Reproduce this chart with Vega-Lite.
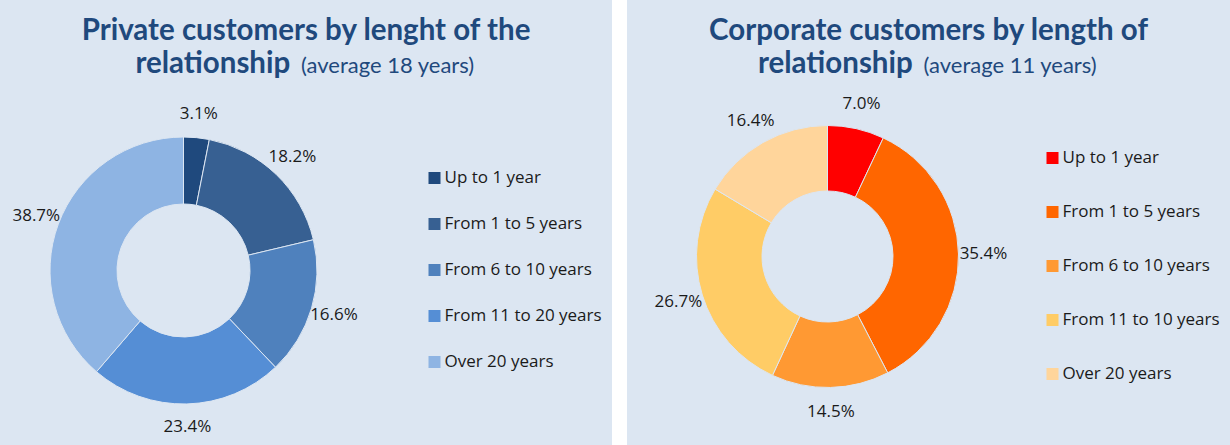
{
  "$schema": "https://vega.github.io/schema/vega-lite/v6.json",
  "background": "#ffffff",
  "padding": 0,
  "spacing": 15,
  "config": {
    "view": {"stroke": null, "fill": "#dce6f2"},
    "legend": {
      "orient": "none",
      "title": null,
      "symbolType": "square",
      "symbolSize": 144,
      "symbolStrokeWidth": 0,
      "symbolOpacity": 1,
      "labelFont": "Open Sans",
      "labelFontSize": 17,
      "labelColor": "#1a1a1a",
      "labelOffset": 1.5,
      "labelLimit": 400,
      "padding": 0
    },
    "title": {
      "anchor": "middle",
      "font": "Lato",
      "fontSize": 29.5,
      "fontWeight": "bold",
      "color": "#1f497d",
      "lineHeight": 33,
      "offset": -79,
      "subtitleFont": "Lato",
      "subtitleFontSize": 22,
      "subtitleFontWeight": "normal",
      "subtitleColor": "#1f497d",
      "subtitlePadding": -23
    }
  },
  "datasets": {
    "private": [
      {"cat": "Up to 1 year", "rank": 1, "pct": 0.031},
      {"cat": "From 1 to 5 years", "rank": 2, "pct": 0.182},
      {"cat": "From 6 to 10 years", "rank": 3, "pct": 0.166},
      {"cat": "From 11 to 20 years", "rank": 4, "pct": 0.234},
      {"cat": "Over 20 years", "rank": 5, "pct": 0.387}
    ],
    "corporate": [
      {"cat": "Up to 1 year", "rank": 1, "pct": 0.070},
      {"cat": "From 1 to 5 years", "rank": 2, "pct": 0.354},
      {"cat": "From 6 to 10 years", "rank": 3, "pct": 0.145},
      {"cat": "From 11 to 10 years", "rank": 4, "pct": 0.267},
      {"cat": "Over 20 years", "rank": 5, "pct": 0.164}
    ]
  },
  "resolve": {
    "scale": {"color": "independent", "theta": "independent"},
    "legend": {"color": "independent"}
  },
  "hconcat": [
    {
      "width": 612,
      "height": 445,
      "data": {"name": "private"},
      "title": {
        "text": ["Private customers by lenght of the", "relationship\u00a0\u00a0\u00a0\u00a0\u00a0\u00a0\u00a0\u00a0\u00a0\u00a0\u00a0\u00a0\u00a0\u00a0\u00a0\u00a0\u00a0\u00a0\u00a0\u00a0\u00a0\u00a0\u00a0\u00a0\u00a0\u00a0\u200b"],
        "subtitle": "\u200b\u00a0\u00a0\u00a0\u00a0\u00a0\u00a0\u00a0\u00a0\u00a0\u00a0\u00a0\u00a0\u00a0\u00a0\u00a0\u00a0\u00a0\u00a0\u00a0\u00a0\u00a0\u00a0\u00a0\u00a0\u00a0\u00a0\u00a0\u00a0\u00a0(average 18 years)"
      },
      "encoding": {
        "theta": {"field": "pct", "type": "quantitative", "stack": true},
        "order": {"field": "rank", "type": "quantitative"},
        "color": {
          "field": "cat",
          "type": "nominal",
          "sort": null,
          "scale": {
            "domain": ["Up to 1 year", "From 1 to 5 years", "From 6 to 10 years", "From 11 to 20 years", "Over 20 years"],
            "range": ["#1f497d", "#376092", "#4f81bd", "#558ed5", "#8eb4e3"]
          },
          "legend": {"legendX": 426, "legendY": 169.5, "rowPadding": 28}
        }
      },
      "layer": [
        {
          "mark": {"type": "arc", "innerRadius": 66.5, "outerRadius": 133.5, "stroke": "#dce6f2", "strokeWidth": 1},
          "encoding": {"x": {"value": 183.5}, "y": {"value": 270.5}}
        },
        {
          "mark": {"type": "text", "radius": 157, "font": "Open Sans", "fontSize": 17, "align": "center", "baseline": "middle"},
          "encoding": {
            "x": {"value": 183.5},
            "y": {"value": 270.5},
            "text": {"field": "pct", "type": "quantitative", "format": ".1%"},
            "color": {"value": "#1a1a1a"}
          }
        }
      ]
    },
    {
      "width": 603,
      "height": 445,
      "data": {"name": "corporate"},
      "title": {
        "text": ["Corporate customers by length of", "relationship\u00a0\u00a0\u00a0\u00a0\u00a0\u00a0\u00a0\u00a0\u00a0\u00a0\u00a0\u00a0\u00a0\u00a0\u00a0\u00a0\u00a0\u00a0\u00a0\u00a0\u00a0\u00a0\u00a0\u00a0\u00a0\u00a0\u200b"],
        "subtitle": "\u200b\u00a0\u00a0\u00a0\u00a0\u00a0\u00a0\u00a0\u00a0\u00a0\u00a0\u00a0\u00a0\u00a0\u00a0\u00a0\u00a0\u00a0\u00a0\u00a0\u00a0\u00a0\u00a0\u00a0\u00a0\u00a0\u00a0\u00a0\u00a0\u00a0(average 11 years)"
      },
      "encoding": {
        "theta": {"field": "pct", "type": "quantitative", "stack": true},
        "order": {"field": "rank", "type": "quantitative"},
        "color": {
          "field": "cat",
          "type": "nominal",
          "sort": null,
          "scale": {
            "domain": ["Up to 1 year", "From 1 to 5 years", "From 6 to 10 years", "From 11 to 10 years", "Over 20 years"],
            "range": ["#ff0000", "#ff6600", "#ff9933", "#ffcc66", "#ffd59b"]
          },
          "legend": {"legendX": 417, "legendY": 149.5, "rowPadding": 36}
        }
      },
      "layer": [
        {
          "mark": {"type": "arc", "innerRadius": 65.5, "outerRadius": 131, "stroke": "#dce6f2", "strokeWidth": 1},
          "encoding": {"x": {"value": 200.5}, "y": {"value": 256.5}}
        },
        {
          "mark": {"type": "text", "radius": 156, "font": "Open Sans", "fontSize": 17, "align": "center", "baseline": "middle"},
          "encoding": {
            "x": {"value": 200.5},
            "y": {"value": 256.5},
            "text": {"field": "pct", "type": "quantitative", "format": ".1%"},
            "color": {"value": "#1a1a1a"}
          }
        }
      ]
    }
  ]
}
